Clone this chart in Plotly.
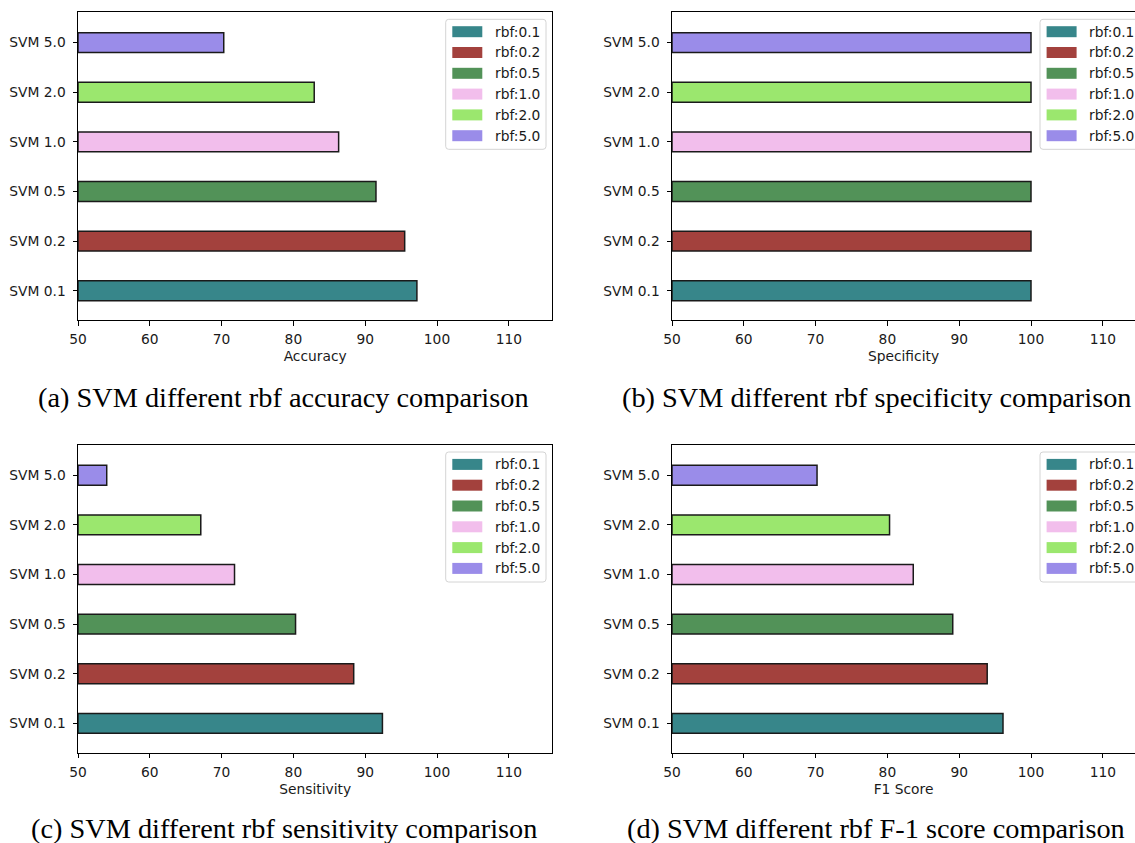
import plotly.graph_objects as go

W, H = 1135, 843

# categories and legend entries
models = ["SVM 0.1", "SVM 0.2", "SVM 0.5", "SVM 1.0", "SVM 2.0", "SVM 5.0"]
legend_labels = ["rbf:0.1", "rbf:0.2", "rbf:0.5", "rbf:1.0", "rbf:2.0", "rbf:5.0"]
bar_colors = ["#37868a", "#a3413d", "#529258", "#f2beec", "#9be76e", "#9a8ce9"]

# metric values per model
accuracy = [97.2, 95.5, 91.5, 86.3, 82.9, 70.3]
specificity = [100.0, 100.0, 100.0, 100.0, 100.0, 100.0]
sensitivity = [92.4, 88.4, 80.3, 71.8, 67.1, 54.0]
f1_score = [96.1, 93.9, 89.1, 83.6, 80.3, 70.2]

metric_titles = ["Accuracy", "Specificity", "Sensitivity", "F1 Score"]
captions = [
    "(a) SVM different rbf accuracy comparison",
    "(b) SVM different rbf specificity comparison",
    "(c) SVM different rbf sensitivity comparison",
    "(d) SVM different rbf F-1 score comparison",
]
x_ticks = [50, 60, 70, 80, 90, 100, 110]

SANS = "DejaVu Sans"
SERIF = "Liberation Serif"
INK = "#1a1a1a"
FS = 13.8
PX_PER_UNIT = 7.18


def fx(px):
    return px / W


def fy(py):
    return 1 - py / H


# panel boxes in pixels: left, right, top, bottom; legend box left; caption centre
panels = [
    dict(l=78.0, r=552.3, t=12.3, b=320.0, leg=445.7, cap_x=283.5, cap_y=397.5),
    dict(l=672.0, r=1135.0, t=12.3, b=320.0, leg=1040.0, cap_x=876.0, cap_y=397.5),
    dict(l=78.0, r=552.3, t=445.0, b=752.7, leg=445.7, cap_x=283.5, cap_y=828.0),
    dict(l=672.0, r=1135.0, t=445.0, b=752.7, leg=1040.0, cap_x=876.0, cap_y=828.0),
]
series = [accuracy, specificity, sensitivity, f1_score]

fig = go.Figure()
shapes = []
annotations = []
layout = {}

for k, (p, values, title, caption) in enumerate(zip(panels, series, metric_titles, captions)):
    idx = "" if k == 0 else str(k + 1)
    xa, ya = "x" + idx, "y" + idx
    right_cut = p["r"] >= W - 0.5

    for i, (m, v) in enumerate(zip(models, values)):
        fig.add_trace(go.Bar(
            x=[v - 50], base=[50], y=[m], orientation="h", width=0.4,
            marker=dict(color=bar_colors[i], line=dict(color=INK, width=1.5)),
            name=legend_labels[i], showlegend=False, xaxis=xa, yaxis=ya,
            hoverinfo="skip",
        ))

    xmax = 50 + (p["r"] - p["l"]) / PX_PER_UNIT
    layout["xaxis" + idx] = dict(
        domain=[fx(p["l"]), fx(p["r"])], anchor=ya, range=[50, xmax],
        tickvals=x_ticks, ticks="outside", ticklen=4.5, tickcolor="black",
        tickfont=dict(family=SANS, size=FS, color=INK),
        showline=True, linecolor="black", linewidth=1, mirror=True,
        showgrid=False, zeroline=False, ticklabelstandoff=2, automargin=False,
        title=dict(text=title, font=dict(family=SANS, size=FS, color=INK), standoff=5),
    )
    layout["yaxis" + idx] = dict(
        domain=[fy(p["b"]), fy(p["t"])], anchor=xa, type="category",
        categoryorder="array", categoryarray=models, range=[-0.59, 5.61],
        ticks="outside", ticklen=4.5, tickcolor="black",
        tickfont=dict(family=SANS, size=FS, color=INK),
        showline=True, linecolor="black", linewidth=1,
        mirror=False if right_cut else True, automargin=False,
        showgrid=False, zeroline=False, ticklabelstandoff=4,
    )

    # legend frame with rounded corners
    bl, bt = p["leg"], p["t"] + 7.0
    br, bb = bl + 100.3, bt + 130.0
    rr = 3
    path = (
        f"M {fx(bl + rr)},{fy(bt)} L {fx(br - rr)},{fy(bt)} "
        f"Q {fx(br)},{fy(bt)} {fx(br)},{fy(bt + rr)} L {fx(br)},{fy(bb - rr)} "
        f"Q {fx(br)},{fy(bb)} {fx(br - rr)},{fy(bb)} L {fx(bl + rr)},{fy(bb)} "
        f"Q {fx(bl)},{fy(bb)} {fx(bl)},{fy(bb - rr)} L {fx(bl)},{fy(bt + rr)} "
        f"Q {fx(bl)},{fy(bt)} {fx(bl + rr)},{fy(bt)} Z"
    )
    shapes.append(dict(type="path", xref="paper", yref="paper", path=path,
                       fillcolor="rgba(255,255,255,0.85)", line=dict(color="#d4d4d4", width=1)))
    for i, lab in enumerate(legend_labels):
        cy = p["t"] + 19.4 + i * 20.8
        shapes.append(dict(type="rect", xref="paper", yref="paper",
                           x0=fx(bl + 6.6), x1=fx(bl + 36.6), y0=fy(cy + 5.5), y1=fy(cy - 5.5),
                           fillcolor=bar_colors[i], line=dict(width=0)))
        annotations.append(dict(x=fx(bl + 47.0), y=fy(cy), xref="paper", yref="paper",
                                text=lab, showarrow=False, xanchor="left", yanchor="middle",
                                font=dict(family=SANS, size=FS, color=INK)))

    annotations.append(dict(x=fx(p["cap_x"]), y=fy(p["cap_y"]), xref="paper", yref="paper",
                            text=caption, showarrow=False, xanchor="center", yanchor="middle",
                            font=dict(family=SERIF, size=28.3, color="black")))

fig.update_layout(
    width=W, height=H, margin=dict(l=0, r=0, t=0, b=0, autoexpand=False),
    paper_bgcolor="white", plot_bgcolor="white",
    showlegend=False, shapes=shapes, annotations=annotations, **layout,
)

fig.write_html("out.html")
